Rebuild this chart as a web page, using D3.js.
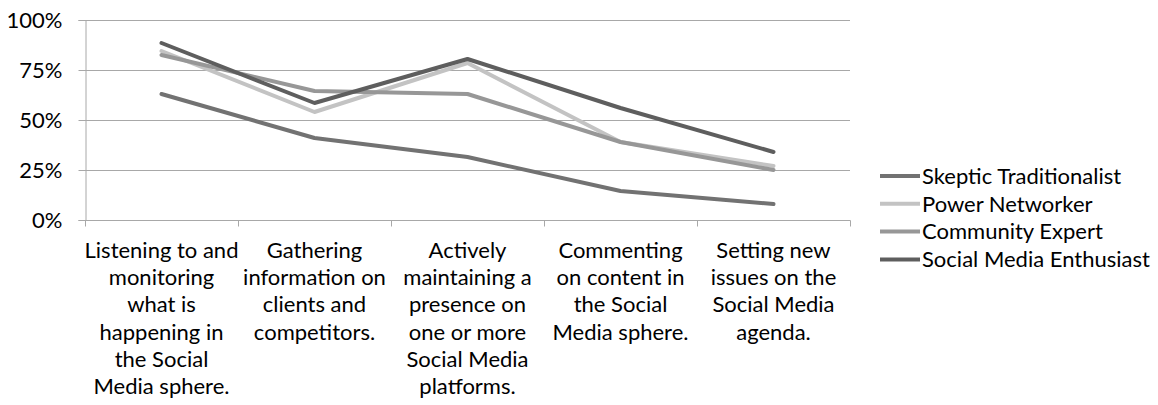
<!DOCTYPE html>
<html>
<head>
<meta charset="utf-8">
<script src="https://cdn.jsdelivr.net/npm/d3@7"></script>
<style>
  html, body { margin: 0; padding: 0; background: #ffffff; }
  svg { display: block; }
  text { font-family: Lato, "Open Sans", sans-serif; fill: #000; }
</style>
</head>
<body>
<svg id="chart" width="1158" height="405"></svg>
<script>
// Activity categories, each split into the lines shown under the axis
const categories = [
  "Listening to and monitoring what is happening in the Social Media sphere.",
  "Gathering information on clients and competitors.",
  "Actively maintaining a presence on one or more Social Media platforms.",
  "Commenting on content in the Social Media sphere.",
  "Setting new issues on the Social Media agenda."
];
const categoryLines = [
  ["Listening to and", "monitoring", "what is", "happening in", "the Social", "Media sphere."],
  ["Gathering", "information on", "clients and", "competitors."],
  ["Actively", "maintaining a", "presence on", "one or more", "Social Media", "platforms."],
  ["Commenting", "on content in", "the Social", "Media sphere."],
  ["Setting new", "issues on the", "Social Media", "agenda."]
];

// Share of each user type engaged in each activity (%)
const seriesNames = ["Skeptic Traditionalist", "Power Networker", "Community Expert", "Social Media Enthusiast"];
const skepticTraditionalist = [63, 41, 31.5, 14.5, 8];
const powerNetworker = [84.5, 54, 78.5, 39, 27];
const communityExpert = [82.5, 64.5, 63, 39, 25];
const socialMediaEnthusiast = [88.5, 58.5, 80.5, 56, 34];
const seriesValues = [skepticTraditionalist, powerNetworker, communityExpert, socialMediaEnthusiast];
const seriesColors = ["#727272", "#c3c3c3", "#979797", "#5e5e5e"];

const yTicks = [0, 25, 50, 75, 100];

const svg = d3.select("#chart");
const plot = { left: 85, right: 850, top: 20, bottom: 220 };

const x = d3.scaleBand()
  .domain(d3.range(categories.length))
  .range([plot.left, plot.right])
  .paddingInner(0).paddingOuter(0);

const y = d3.scaleLinear().domain([0, 100]).range([plot.bottom, plot.top]);

const gridColor = "#a8a8a8";

// horizontal gridlines
svg.append("g")
  .selectAll("line")
  .data(yTicks.filter(d => d > 0))
  .join("line")
  .attr("x1", plot.left).attr("x2", plot.right)
  .attr("y1", d => Math.round(y(d)) + 0.5).attr("y2", d => Math.round(y(d)) + 0.5)
  .attr("stroke", gridColor).attr("stroke-width", 1);

// y axis
const yAxis = svg.append("g")
  .attr("transform", `translate(${plot.left + 0.5},0)`)
  .call(d3.axisLeft(y).tickValues(yTicks).tickFormat(d => d + "%").tickSize(7).tickPadding(16));
yAxis.select(".domain").attr("stroke", gridColor);
yAxis.selectAll(".tick line").attr("stroke", gridColor);
yAxis.selectAll(".tick text")
  .style("font-size", "22px")
  .style("font-family", "Lato, 'Open Sans', sans-serif")
  .attr("fill", "#000");

// x axis with tick marks at category boundaries
const xAxisG = svg.append("g")
  .attr("transform", `translate(0,${plot.bottom + 0.5})`);
xAxisG.append("line")
  .attr("x1", plot.left).attr("x2", plot.right + 0.5)
  .attr("stroke", gridColor);
const boundaries = d3.range(categories.length + 1).map(i =>
  i < categories.length ? x(i) : x(categories.length - 1) + x.bandwidth());
xAxisG.selectAll("line.tick")
  .data(boundaries)
  .join("line")
  .attr("class", "tick")
  .attr("x1", d => Math.round(d) + 0.5).attr("x2", d => Math.round(d) + 0.5)
  .attr("y1", 0).attr("y2", 6)
  .attr("stroke", gridColor);

// category labels
const labelG = svg.append("g");
categoryLines.forEach((lines, i) => {
  const t = labelG.append("text")
    .attr("x", x(i) + x.bandwidth() / 2)
    .attr("y", 258)
    .attr("text-anchor", "middle")
    .style("font-size", "22px");
  lines.forEach((ln, j) => {
    t.append("tspan")
      .attr("x", x(i) + x.bandwidth() / 2)
      .attr("dy", j === 0 ? 0 : 27.2)
      .text(ln);
  });
});

// series lines
const line = d3.line()
  .x((d, i) => x(i) + x.bandwidth() / 2)
  .y(d => y(d));

svg.append("g")
  .selectAll("path")
  .data(seriesValues)
  .join("path")
  .attr("d", d => line(d))
  .attr("fill", "none")
  .attr("stroke", (d, i) => seriesColors[i])
  .attr("stroke-width", 4)
  .attr("stroke-linejoin", "round")
  .attr("stroke-linecap", "round");

// legend
const legend = svg.append("g");
const legendItems = legend.selectAll("g")
  .data(seriesNames)
  .join("g")
  .attr("transform", (d, i) => `translate(880,${176 + i * 27.8})`);
legendItems.append("line")
  .attr("x1", 0).attr("x2", 40)
  .attr("y1", 0).attr("y2", 0)
  .attr("stroke", (d, i) => seriesColors[i])
  .attr("stroke-width", 4);
legendItems.append("text")
  .attr("x", 42)
  .attr("y", 0)
  .attr("dy", "0.35em")
  .style("font-size", "22px")
  .text(d => d);
</script>
</body>
</html>
